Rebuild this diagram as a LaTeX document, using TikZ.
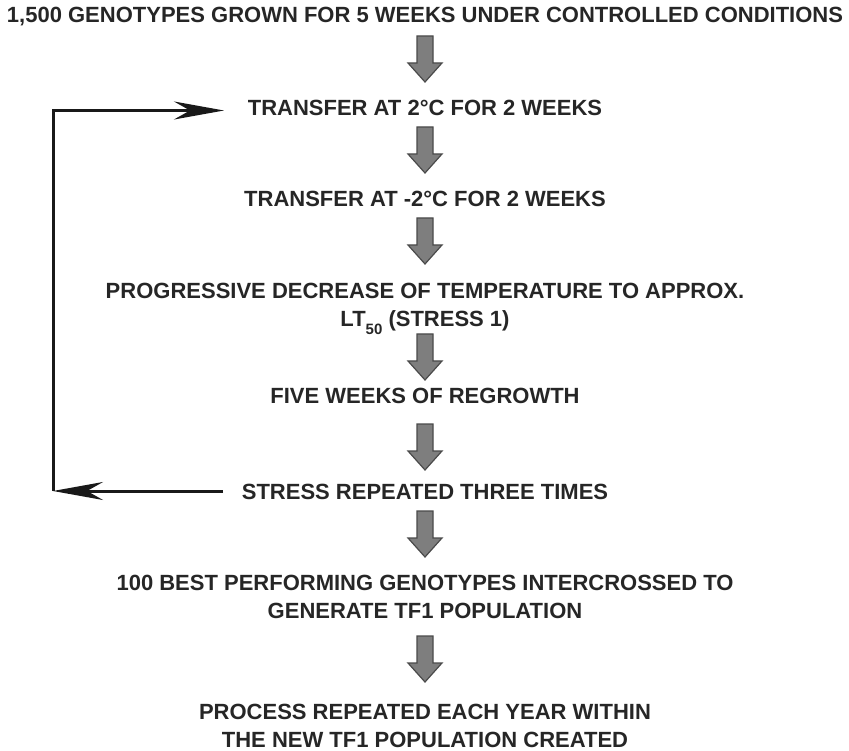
\documentclass[tikz,border=0pt]{standalone}
\usepackage{fontspec}
\setmainfont{Liberation Sans}
\usetikzlibrary{arrows.meta}
\definecolor{txt}{HTML}{262626}
\definecolor{arrfill}{HTML}{7E7E7E}
\definecolor{arrline}{HTML}{4A4A4A}
\begin{document}
\begin{tikzpicture}[x=1pt,y=-1pt,
  lbl/.style={font=\fontsize{22}{28}\selectfont\bfseries, text=txt, align=center, inner sep=0pt},
  loopline/.style={draw=black!90, line width=3pt},
  looptip/.style={-{Stealth[length=50pt,width=18pt,inset=16pt]}},
  blockarrow/.pic={
    \fill[arrfill, draw=arrline, line width=1.2pt]
      (-8,-23) -- (8,-23) -- (8,4) -- (17,4) -- (0,23) -- (-17,4) -- (-8,4) -- cycle;
  }]
\useasboundingbox (0,0) rectangle (849,751);
\node[lbl] (n1) at (425,17) {1,500 GENOTYPES GROWN FOR 5 WEEKS UNDER CONTROLLED CONDITIONS};
\node[lbl] (n2) at (425,108) {TRANSFER AT 2°C FOR 2 WEEKS};
\node[lbl] (n3) at (425,199) {TRANSFER AT -2°C FOR 2 WEEKS};
\node[lbl] (n4) at (425,309) {PROGRESSIVE DECREASE OF TEMPERATURE TO APPROX.\\LT\raisebox{-0.35em}{\fontsize{15}{15}\selectfont 50} (STRESS 1)};
\node[lbl] (n5) at (425,396) {FIVE WEEKS OF REGROWTH};
\node[lbl] (n6) at (425,492) {STRESS REPEATED THREE TIMES};
\node[lbl] (n7) at (425,597) {100 BEST PERFORMING GENOTYPES INTERCROSSED TO\\GENERATE TF1 POPULATION};
\node[lbl] (n8) at (425,726) {PROCESS REPEATED EACH YEAR WITHIN\\THE NEW TF1 POPULATION CREATED};
\pic at (425,59) {blockarrow};
\pic at (425,150) {blockarrow};
\pic at (425,241) {blockarrow};
\pic at (425,357) {blockarrow};
\pic at (425,447) {blockarrow};
\pic at (425,534) {blockarrow};
\pic at (425,659) {blockarrow};
\coordinate (c1) at (53,110.5);
\coordinate (c2) at (53,491);
\coordinate (t1) at (224,110.5);
\coordinate (t2) at (223,491);
\draw[loopline, looptip] (c2) -- (c1) -- (t1);
\draw[loopline, looptip] (t2) -- (c2);
\end{tikzpicture}
\end{document}
